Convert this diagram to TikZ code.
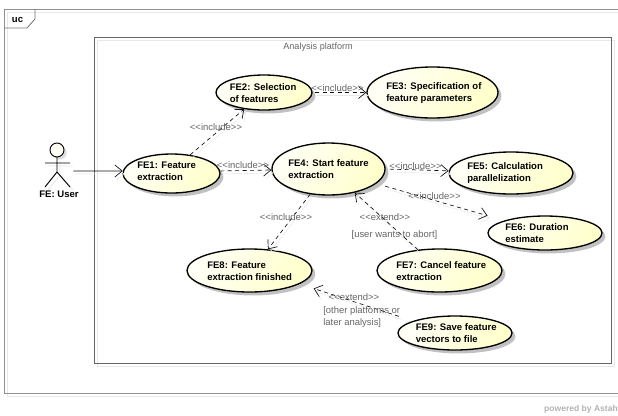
\documentclass[tikz,border=0pt]{standalone}
\usepackage{fontspec}
\setmainfont{Liberation Sans}
\usetikzlibrary{arrows.meta,shapes.geometric,shadows}
\definecolor{lineC}{HTML}{111111}
\definecolor{labelC}{HTML}{666666}
\definecolor{frameC}{HTML}{909090}
\definecolor{boxC}{HTML}{666666}
\definecolor{ghostC}{HTML}{E8E8E8}
\definecolor{creamA}{HTML}{FFFFCC}
\definecolor{creamB}{HTML}{FFFFF6}
\newcommand{\inclabel}{<{}<include>{}>}
\newcommand{\extlabel}{<{}<extend>{}>}
\tikzset{
  ghost/.style={preaction={draw=ghostC,solid,transform canvas={shift={(2,3)}}}},
  ucase/.style n args={2}{ellipse,draw=black,line width=1pt,inner sep=0pt,
    minimum width=#1*.75pt,minimum height=#2*.75pt,
    left color=creamB,right color=creamA,shading angle=60,
    drop shadow={shadow xshift=2.6pt,shadow yshift=-2.6pt,fill=black!35,opacity=.7}},
  uctext/.style={anchor=west,align=left,inner sep=0pt,font=\bfseries\fontsize{7.15pt}{9pt}\selectfont,text=black},
  conn/.style={draw=lineC,line width=.5pt,ghost,-{Straight Barb[length=5.5pt,width=9pt,line width=.5pt]}},
  dep/.style={conn,dash pattern=on 3pt off 2.6pt},
  rel/.style={inner sep=0pt,font=\fontsize{7.1pt}{9pt}\selectfont,text=labelC},
  relleft/.style={rel,anchor=west,align=left},
  actorline/.style={draw=black,line width=.7pt},
}
\begin{document}
\begin{tikzpicture}[x=.75pt,y=-.75pt]
\useasboundingbox (0,0) rectangle (618,415);
% frame
\draw[ghostC,line width=.7pt] (618,12) -- (7,12) -- (7,396) -- (618,396);
\draw[frameC,line width=.7pt] (618,9) -- (4,9) -- (4,393) -- (618,393);
\draw[frameC!80!black,line width=.6pt] (35,9) -- (35,19) -- (27,28) -- (4,28);
\node[inner sep=0pt,font=\bfseries\fontsize{7.15pt}{9pt}\selectfont] (uc) at (17.5,20) {uc};
% system boundary
\draw[ghostC,line width=.7pt] (614,40) -- (614,366) -- (97,366) -- (97,40) -- cycle;
\draw[boxC,line width=.6pt] (94,37) rectangle (611,363);
\node[rel,anchor=west,font=\fontsize{6.85pt}{9pt}\selectfont] (platform) at (283,47) {Analysis platform};
% use cases
\node[ucase={97}{39}] (fe1) at (171.5,173.5) {};
\node[ucase={96}{35}] (fe2) at (264,92.5) {};
\node[ucase={131}{51}] (fe3) at (432.5,92.5) {};
\node[ucase={113}{52}] (fe4) at (328.5,169) {};
\node[ucase={124}{42}] (fe5) at (511,173) {};
\node[ucase={114}{34}] (fe6) at (545,233) {};
\node[ucase={125}{43}] (fe7) at (439.5,270.5) {};
\node[ucase={125}{43}] (fe8) at (249.5,270.5) {};
\node[ucase={114}{34}] (fe9) at (455,333) {};
\node[uctext] (t1) at (137,171.5) {FE1: Feature\\extraction};
\node[uctext] (t2) at (229.5,93) {FE2: Selection\\of features};
\node[uctext] (t3) at (386,93) {FE3: Specification of\\feature parameters};
\node[uctext] (t4) at (288,169.5) {FE4: Start feature\\extraction};
\node[uctext] (t5) at (467,173.5) {FE5: Calculation\\parallelization};
\node[uctext] (t6) at (505,233.5) {FE6: Duration\\estimate};
\node[uctext] (t7) at (396,271) {FE7: Cancel feature\\extraction};
\node[uctext] (t8) at (207,271) {FE8: Feature\\extraction finished};
\node[uctext] (t9) at (415.5,333) {FE9: Save feature\\vectors to file};
% actor
\node[minimum width=24pt,minimum height=27pt,inner sep=0pt] (actor) at (57,171) {};
\draw[actorline,fill=creamB,drop shadow={shadow xshift=2pt,shadow yshift=-2pt,fill=black!25}] (57,150) circle[radius=7];
\draw[ghostC,line width=.7pt] (60,160) -- (60,175) -- (48,190) (60,175) -- (73,190) (48,166) -- (73,166);
\draw[actorline] (57,157) -- (57,172) -- (45,187) (57,172) -- (70,187) (45,163) -- (70,163);
\node[uctext,anchor=center] (user) at (59,194) {FE: User};
% connectors
\draw[conn] (actor.east) -- (fe1.177);
\draw[dep] (fe1.45) -- (fe2.220);
\draw[dep] (fe1.3) -- (fe4.181);
\draw[dep,shorten <=2pt] (fe2.0) -- (fe3.180);
\draw[dep,shorten <=3pt] (fe4.0) -- (fe5.178);
\draw[dep,shorten <=7pt,shorten >=13pt] (fe4.-17) -- (fe6.163);
\draw[dep] (fe4.-126) -- (fe8.49.5);
\draw[dep] (fe7.136) -- (fe4.-42);
\draw[dep,shorten <=11pt,shorten >=11pt] (fe9.164) -- (fe8.-15.6);
% labels
\node[rel] (l1) at (216,127) {\inclabel};
\node[rel] (l2) at (243,165) {\inclabel};
\node[rel] (l3) at (337.5,88) {\inclabel};
\node[rel] (l4) at (415.5,166) {\inclabel};
\node[rel] (l5) at (434.5,196) {\inclabel};
\node[rel] (l6) at (286,217) {\inclabel};
\node[rel] (l7) at (385,217) {\extlabel};
\node[rel] (l8) at (394.5,235) {[user wants to abort]};
\node[rel] (l9) at (354,297) {\extlabel};
\node[relleft,anchor=north west] (l10) at (323,306.5) {[other platforms or\\later analysis]};
\node[inner sep=0pt,anchor=east,font=\bfseries\fontsize{6.4pt}{8pt}\selectfont,text=black!30] (pw) at (618,409) {powered by Astah};
\end{tikzpicture}
\end{document}
